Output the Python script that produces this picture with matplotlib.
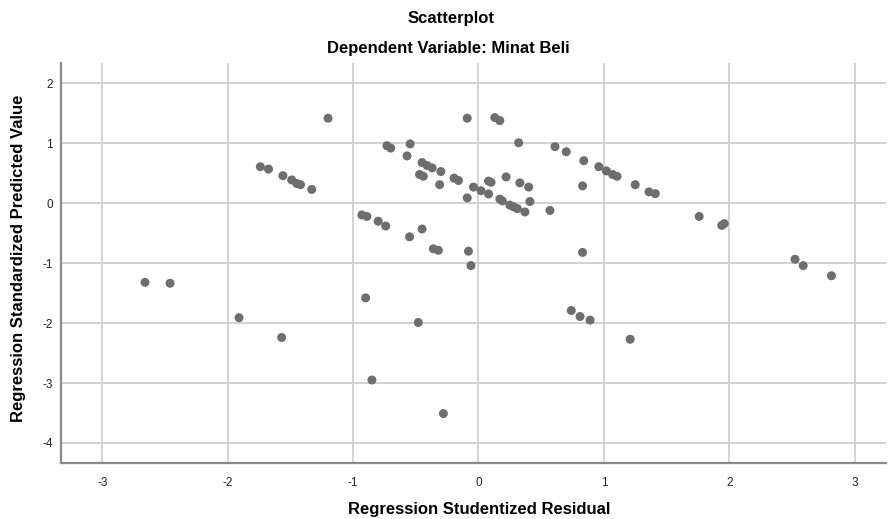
import matplotlib.pyplot as plt

plt.rcParams['font.family'] = ['Liberation Sans', 'DejaVu Sans']

# Regression Studentized Residual (x) vs Regression Standardized Predicted Value (y)
residual = [
    -1.20, -1.74, -1.675, -1.56, -1.49, -1.45, -1.42, -1.33,
    -0.09, 0.13, 0.17, -0.73, -0.70, -0.545, -0.57, -0.45, -0.41, -0.37, -0.30,
    -0.47, -0.44, -0.31, -0.195, -0.16, -0.04, 0.02, -0.09, 0.08, 0.10, 0.08,
    0.17, 0.19, 0.25, 0.28, 0.31, 0.37, 0.41, 0.22, 0.33, 0.40, 0.32, 0.57,
    0.61, 0.70, 0.84, 0.83, 0.96, 1.02, 1.07, 1.105, 1.25, 1.36, 1.41,
    1.76, 1.94, 1.96, 2.525, 2.59, 2.815,
    -0.93, -0.89, -0.80, -0.74, -0.55, -0.45, -0.36, -0.32, -0.08, -0.06, 0.83,
    -2.66, -2.46, -1.91, -1.57, -0.90, -0.48, 0.74, 0.81, 0.89, 1.21,
    -0.85, -0.28,
]
predicted = [
    1.42, 0.61, 0.57, 0.46, 0.39, 0.33, 0.31, 0.23,
    1.42, 1.43, 1.38, 0.96, 0.92, 0.99, 0.79, 0.68, 0.63, 0.59, 0.53,
    0.48, 0.45, 0.31, 0.42, 0.38, 0.27, 0.21, 0.09, 0.37, 0.35, 0.155,
    0.07, 0.04, -0.03, -0.06, -0.09, -0.145, 0.03, 0.44, 0.34, 0.27, 1.01, -0.12,
    0.945, 0.86, 0.71, 0.29, 0.61, 0.54, 0.48, 0.45, 0.31, 0.19, 0.16,
    -0.22, -0.37, -0.34, -0.935, -1.04, -1.21,
    -0.195, -0.22, -0.30, -0.38, -0.56, -0.43, -0.76, -0.785, -0.80, -1.04, -0.82,
    -1.32, -1.335, -1.91, -2.24, -1.58, -1.99, -1.79, -1.89, -1.95, -2.27,
    -2.95, -3.51,
]
x_ticks = [-3, -2, -1, 0, 1, 2, 3]
y_ticks = [2, 1, 0, -1, -2, -3, -4]

fig = plt.figure(figsize=(8.88, 5.19), dpi=100)
ax = fig.add_axes([0.0687, 0.1085, 0.929, 0.770])

ax.scatter(residual, predicted, s=42, color='#6e6e6e', edgecolors='none', zorder=3)

ax.set_xlim(-3.33, 3.25)
ax.set_ylim(-4.33, 2.34)
ax.set_xticks(x_ticks)
ax.set_yticks(y_ticks)
ax.set_xticklabels([str(t) for t in x_ticks])
ax.set_yticklabels([str(t) for t in y_ticks])
ax.grid(True, color='#cfcfcf', linewidth=1.3)
ax.set_axisbelow(True)
ax.tick_params(length=0, labelsize=8.5, colors='#222222')
ax.tick_params(axis='x', pad=10)
ax.tick_params(axis='y', pad=6)

for side in ['top', 'right']:
    ax.spines[side].set_visible(False)
for side in ['left', 'bottom']:
    ax.spines[side].set_color('#8a8a8a')
    ax.spines[side].set_linewidth(1.6)

fig.text(0.540, 0.019, 'Regression Studentized Residual', ha='center', va='center',
         fontsize=12, fontweight='bold')
fig.text(0.021, 0.503, 'Regression Standardized Predicted Value', ha='center', va='center',
         rotation=90, fontsize=12, fontweight='bold')

fig.text(0.508, 0.965, 'Scatterplot', ha='center', va='center', fontsize=12, fontweight='bold')
fig.text(0.505, 0.907, 'Dependent Variable: Minat Beli', ha='center', va='center', fontsize=12, fontweight='bold')

fig.savefig('out.png', dpi=100)
